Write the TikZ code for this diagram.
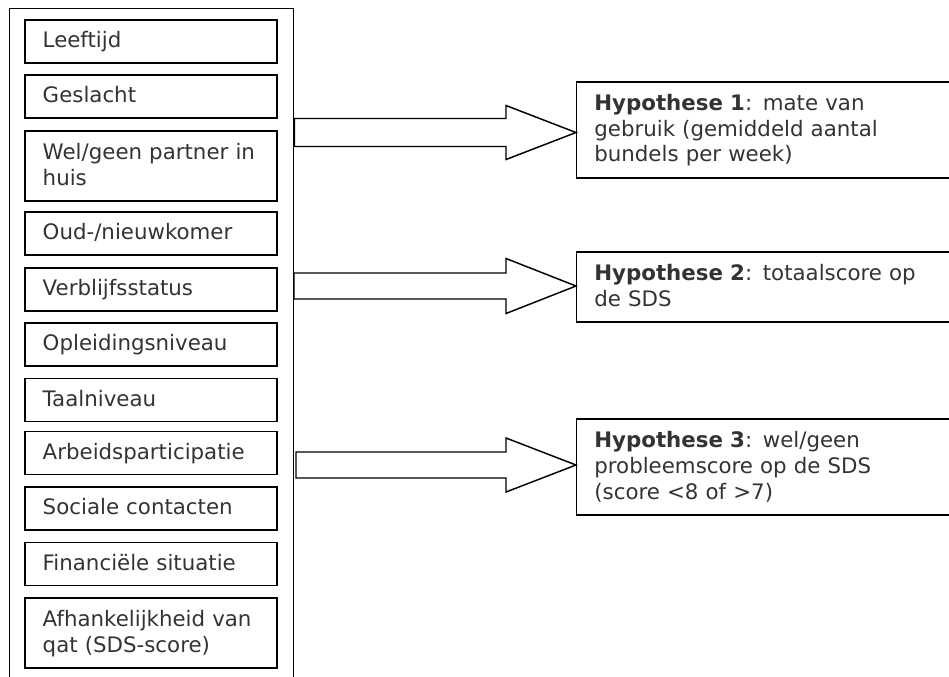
\documentclass[tikz,border=0pt]{standalone}
\usepackage{fontspec}
\setmainfont{DejaVu Sans}
\usetikzlibrary{calc}
\newcommand\lnst{\rule[-3.2pt]{0pt}{16pt}}
\newcommand\fatarrow[4]{%
  \coordinate (tip#1) at (#2.west |- #1);
  \draw[arrowline] ($(#1)+(0,-#3)$) -- ($(tip#1)+(-70,-#3)$) -- ($(tip#1)+(-70,-#4)$)
    -- (tip#1) -- ($(tip#1)+(-70,#4)$) -- ($(tip#1)+(-70,#3)$) -- ($(#1)+(0,#3)$) -- cycle;}
\begin{document}
\begin{tikzpicture}[x=0.75pt,y=-0.75pt,line width=1.1pt,
  lbox/.style={draw=black, rectangle, minimum width=189pt, minimum height=32.25pt,
    text width=162.4pt, inner xsep=13.3pt, inner ysep=0pt, align=left,
    text=black!80, font=\fontsize{16}{19.2}\selectfont},
  tall/.style={minimum height=52.5pt},
  hbox/.style={draw=black, rectangle, anchor=west, minimum width=318pt,
    text width=291.6pt, inner xsep=13.2pt, inner ysep=0pt, align=left,
    text=black!80, font=\fontsize{16}{19.2}\selectfont},
  outerframe/.style={draw=black, rectangle, anchor=north west, minimum width=213pt,
    minimum height=525pt, inner sep=0pt},
  arrowline/.style={draw=black, fill=white, line width=1.1pt, line join=miter}
]
\path[use as bounding box] (0,0) rectangle (949,676);
\clip (0,0) rectangle (949,676);

\node[outerframe] (outer) at (9,8) {};

\node[lbox] (v1) at (151,41.5) {\lnst Leeftijd};
\node[lbox] (v2) at (151,96.5) {\lnst Geslacht};
\node[lbox,tall] (v3) at (151,166) {\lnst Wel/geen partner in\\\lnst huis};
\node[lbox] (v4) at (151,233.5) {\lnst Oud-/nieuwkomer};
\node[lbox] (v5) at (151,289.5) {\lnst Verblijfsstatus};
\node[lbox] (v6) at (151,344.5) {\lnst Opleidingsniveau};
\node[lbox] (v7) at (151,400) {\lnst Taalniveau};
\node[lbox] (v8) at (151,453) {\lnst Arbeidsparticipatie};
\node[lbox] (v9) at (151,508.5) {\lnst Sociale contacten};
\node[lbox] (v10) at (151,564) {\lnst Financiële situatie};
\node[lbox,tall] (v11) at (151,633) {\lnst Afhankelijkheid van\\\lnst qat (SDS-score)};

\node[hbox, minimum height=72pt] (h1) at (576,130)
  {\lnst\textbf{Hypothese 1}: mate van\\\lnst gebruik (gemiddeld aantal\\\lnst bundels per week)};
\node[hbox, minimum height=52.5pt] (h2) at (576,287)
  {\lnst\textbf{Hypothese 2}: totaalscore op\\\lnst de SDS};
\node[hbox, minimum height=72pt] (h3) at (576,467)
  {\lnst\textbf{Hypothese 3}: wel/geen\\\lnst probleemscore op de SDS\\\lnst (score <8 of >7)};

\coordinate (s1) at (outer.east |- 0,132.5);
\coordinate (s2) at (294,286);
\coordinate (s3) at (296,465);

\fatarrow{s1}{h1}{14}{27}
\fatarrow{s2}{h2}{13}{27.5}
\fatarrow{s3}{h3}{13}{27}
\end{tikzpicture}
\end{document}
